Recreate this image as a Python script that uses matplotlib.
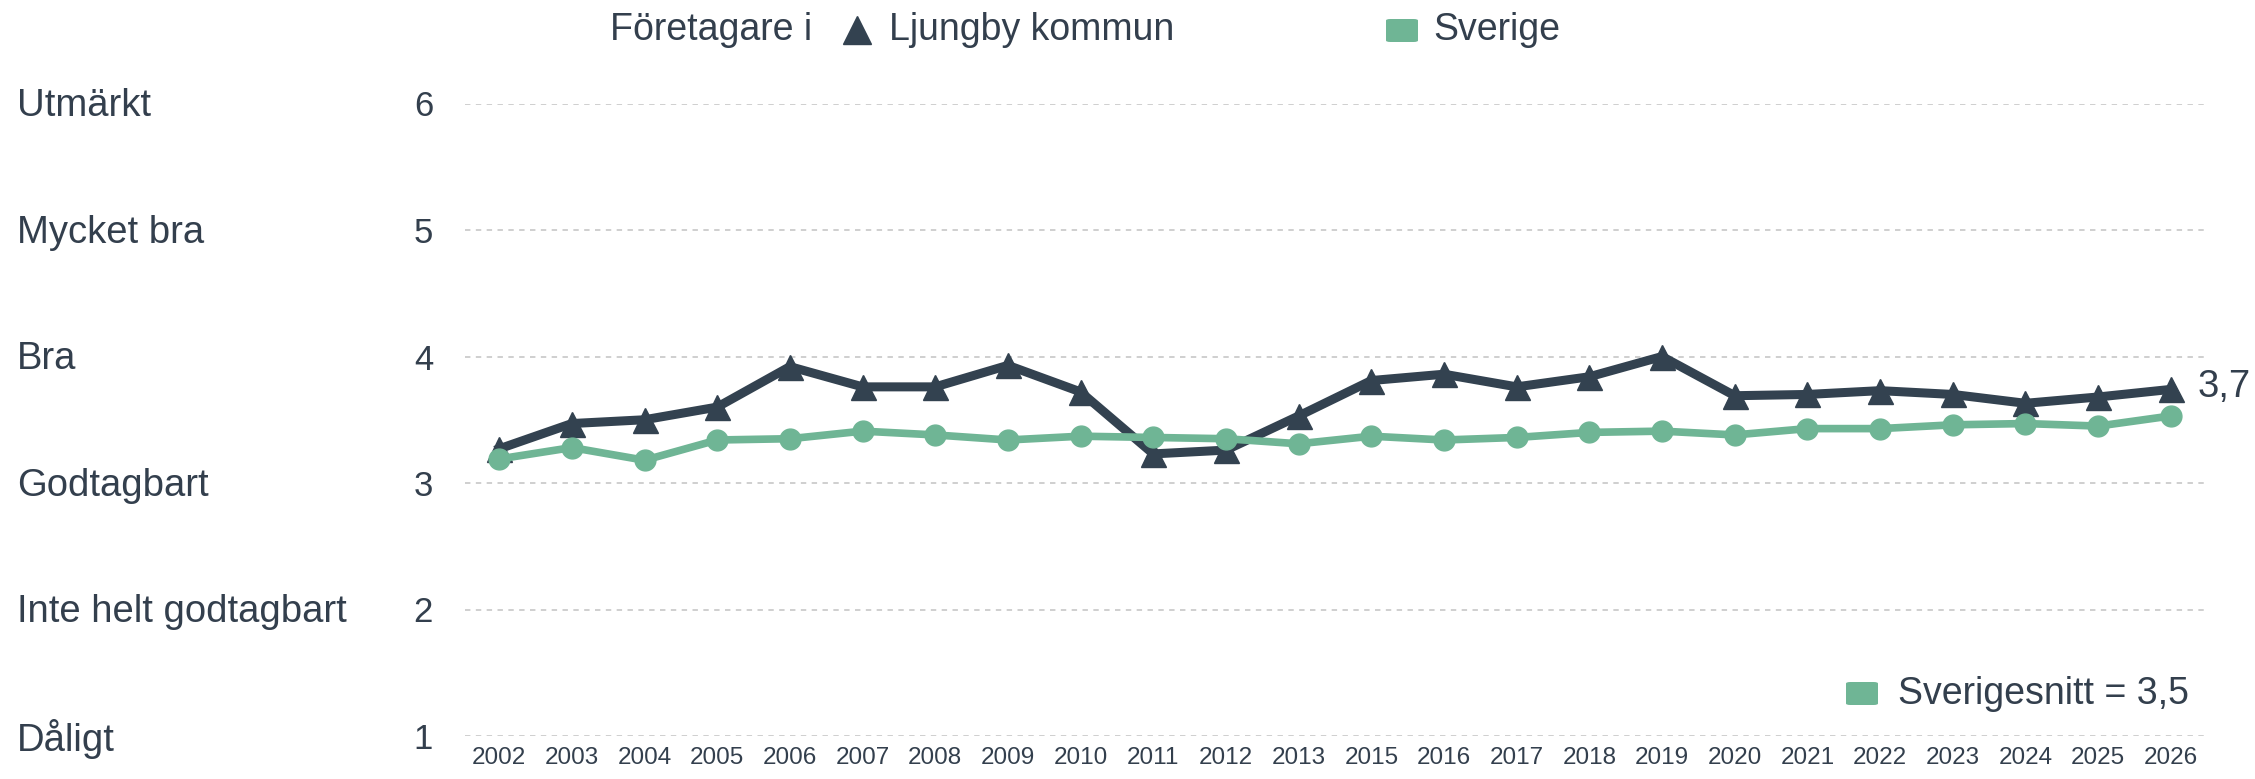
import matplotlib
matplotlib.use("Agg")
import matplotlib.pyplot as plt
import matplotlib.transforms as mtransforms
from matplotlib.patches import FancyBboxPatch
from matplotlib.lines import Line2D

years = ["2002", "2003", "2004", "2005", "2006", "2007", "2008", "2009", "2010", "2011",
         "2012", "2013", "2015", "2016", "2017", "2018", "2019", "2020", "2021", "2022",
         "2023", "2024", "2025", "2026"]
ljungby = [3.27, 3.47, 3.50, 3.60, 3.92, 3.76, 3.76, 3.93, 3.72, 3.23,
           3.26, 3.53, 3.81, 3.86, 3.76, 3.84, 4.00, 3.69, 3.70, 3.73,
           3.70, 3.63, 3.68, 3.74]
sverige = [3.19, 3.28, 3.18, 3.34, 3.35, 3.41, 3.38, 3.34, 3.37, 3.36,
           3.35, 3.31, 3.37, 3.34, 3.36, 3.40, 3.41, 3.38, 3.43, 3.43,
           3.46, 3.47, 3.45, 3.53]
scale_labels = ["Dåligt", "Inte helt godtagbart", "Godtagbart", "Bra", "Mycket bra", "Utmärkt"]
scale_values = [1, 2, 3, 4, 5, 6]
last_label = "3,7"
avg_label = "Sverigesnitt = 3,5"
legend_prefix = "Företagare i"
legend_names = ["Ljungby kommun", "Sverige"]

DARK = "#334250"
GREEN = "#6fb595"
TEXT = "#333f4d"
FONT = ["Liberation Sans", "DejaVu Sans"]
plt.rcParams["font.family"] = FONT

W, H = 2255, 779
fig = plt.figure(figsize=(W / 100, H / 100), dpi=100)
ax = fig.add_axes([465 / W, 1 - 736 / H, (2205 - 465) / W, (736 - 103.5) / H])

x = list(range(len(years)))
ax.plot(x, ljungby, color=DARK, lw=6.5, marker="^", ms=18, zorder=3, clip_on=False,
        solid_joinstyle="miter")
ax.plot(x, sverige, color=GREEN, lw=5.5, marker="o", ms=15, zorder=4, clip_on=False)

ax.set_xlim(-0.47, len(years) - 1 + 0.47)
ax.set_ylim(1, 6)
ax.set_yticks(scale_values)
ax.set_yticklabels([str(v) for v in scale_values])
ax.set_xticks(x)
ax.set_xticklabels(years)
ax.tick_params(axis="y", length=0, pad=23, labelsize=25, labelcolor=TEXT)
ax.tick_params(axis="x", length=0, pad=8, labelsize=17.5, labelcolor=TEXT)
for s in ax.spines.values():
    s.set_visible(False)
ax.grid(axis="y", color="#cccccc", lw=1.3, linestyle=(0, (3, 3)))
ax.grid(axis="x", visible=False)
ax.set_axisbelow(True)

trans = mtransforms.blended_transform_factory(fig.transFigure, ax.transData)
for lab, v in zip(scale_labels, scale_values):
    ax.text(17 / W, v - 0.02, lab, transform=trans, ha="left", va="center", fontsize=27.5, color=TEXT)

# end label
ax.annotate(last_label, xy=(x[-1], ljungby[-1]), xytext=(19, 2), textcoords="offset points",
            ha="left", va="center", fontsize=27.5, color=TEXT, annotation_clip=False)

# top legend
ty = 1 - 30 / H
fig.text(610 / W, ty, legend_prefix, ha="left", va="center", fontsize=27, color=TEXT)
fig.add_artist(Line2D([857 / W], [ty], marker="^", ms=20, color=DARK, transform=fig.transFigure))
fig.text(889 / W, ty, legend_names[0], ha="left", va="center", fontsize=27, color=TEXT)
fig.add_artist(FancyBboxPatch((1386 / W, 1 - 42 / H), 32 / W, 23 / H,
                              boxstyle="round,pad=0,rounding_size=0.002",
                              transform=fig.transFigure, color=GREEN, lw=0))
fig.text(1433 / W, ty, legend_names[1], ha="left", va="center", fontsize=27, color=TEXT)

# average legend
ay = 1 - 694 / H
fig.add_artist(FancyBboxPatch((1846 / W, 1 - 705 / H), 32 / W, 23 / H,
                              boxstyle="round,pad=0,rounding_size=0.002",
                              transform=fig.transFigure, color=GREEN, lw=0))
fig.text(1898 / W, ay, avg_label, ha="left", va="center", fontsize=27, color=TEXT)

fig.savefig("out.png", dpi=100)
